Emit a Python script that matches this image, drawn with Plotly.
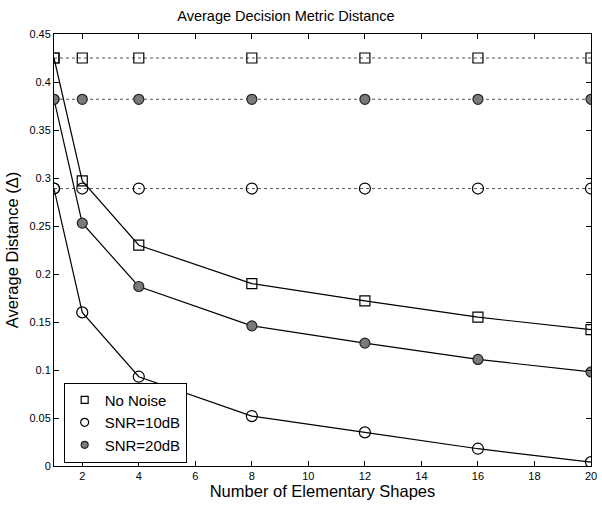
import plotly.graph_objects as go

shapes_n = [1, 2, 4, 8, 12, 16, 20]
no_noise = [0.425, 0.297, 0.230, 0.190, 0.172, 0.155, 0.142]
snr10 = [0.289, 0.160, 0.093, 0.052, 0.035, 0.018, 0.004]
snr20 = [0.382, 0.253, 0.187, 0.146, 0.128, 0.111, 0.098]
ref_no_noise = [0.425] * 7
ref_snr10 = [0.289] * 7
ref_snr20 = [0.382] * 7

names = ["No Noise", "SNR=10dB", "SNR=20dB"]
symbols = ["square-open", "circle-open", "circle"]
sizes = [10, 11, 10]
legend_sizes = [7, 8, 7]
fills = ["black", "black", "#7a7a7a"]

fig = go.Figure()
series = [(no_noise, ref_no_noise), (snr10, ref_snr10), (snr20, ref_snr20)]
for i, (curve, ref) in enumerate(series):
    marker = dict(symbol=symbols[i], size=sizes[i], color=fills[i],
                  line=dict(color="#222", width=1.2))
    # dotted reference line with markers
    fig.add_trace(go.Scatter(x=shapes_n, y=ref, mode="lines+markers", showlegend=False,
                             line=dict(color="#555", width=1, dash="dot"), marker=marker))
    # decreasing curve
    fig.add_trace(go.Scatter(x=shapes_n, y=curve, mode="lines+markers", showlegend=False,
                             line=dict(color="black", width=1.2), marker=marker))

for i in range(3):
    fig.add_trace(go.Scatter(x=[None], y=[None], mode="markers", name=names[i],
                             marker=dict(symbol=symbols[i], size=legend_sizes[i], color=fills[i],
                                         line=dict(color="#222", width=1.2))))

axis_common = dict(showline=True, linecolor="black", linewidth=1, mirror="ticks",
                   ticks="inside", ticklen=5, tickcolor="black", showgrid=False,
                   zeroline=False, tickfont=dict(size=11, color="black"),
                   ticklabeloverflow="allow")

fig.update_layout(
    width=602, height=505,
    margin=dict(l=54, r=5, t=34, b=39),
    paper_bgcolor="white", plot_bgcolor="white",
    font=dict(family="Liberation Sans, Arial, sans-serif", color="black"),
    title=dict(text="Average Decision Metric Distance", x=0.475, xanchor="center",
               y=0.968, yanchor="middle", font=dict(size=14.5)),
    xaxis=dict(range=[1, 20], tickvals=[2, 4, 6, 8, 10, 12, 14, 16, 18, 20],
               title=dict(text="Number of Elementary Shapes", font=dict(size=16.5), standoff=2),
               **axis_common),
    yaxis=dict(range=[0, 0.45], tickvals=[0, 0.05, 0.1, 0.15, 0.2, 0.25, 0.3, 0.35, 0.4, 0.45],
               ticktext=["0", "0.05", "0.1", "0.15", "0.2", "0.25", "0.3", "0.35", "0.4", "0.45"],
               title=dict(text="Average Distance (Δ)", font=dict(size=16.5), standoff=6),
               **axis_common),
    legend=dict(x=0.018, y=0.008, xanchor="left", yanchor="bottom",
                bordercolor="black", borderwidth=1, bgcolor="white",
                font=dict(size=15), tracegroupgap=0, itemsizing="trace",
                entrywidth=125, entrywidthmode="pixels"),
)

fig.write_html("out.html")
